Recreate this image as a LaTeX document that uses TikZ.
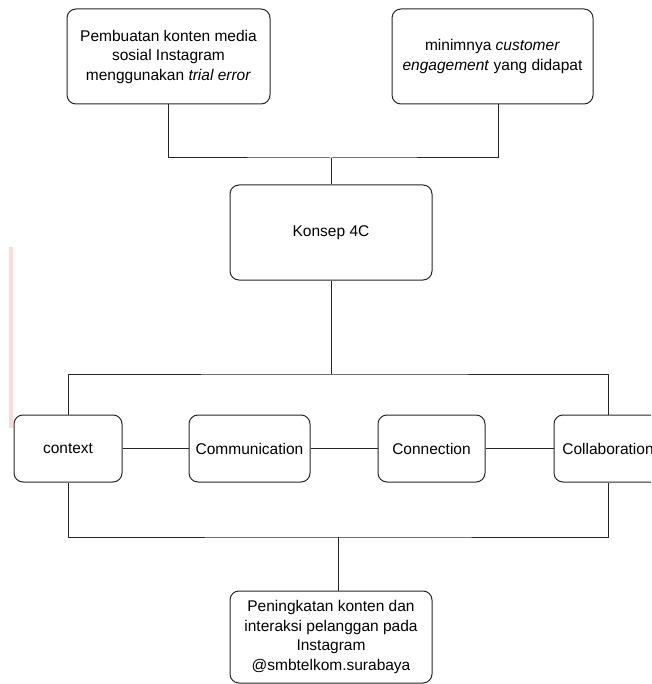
\documentclass[tikz,border=0pt]{standalone}
\usepackage{fontspec}
\setmainfont{Liberation Sans}
\begin{document}
\begin{tikzpicture}[
        x=1pt,
        y=-1pt,
        box/.style={draw=black!85, line width=1pt, rounded corners=9pt, align=center, inner sep=2pt, font=\fontsize{15.5}{19.5}\selectfont},
        wire/.style={draw=black!85, line width=1pt}
    ]
    \clip (0,0) rectangle (651,684);
    \fill[red!15] (8.5,247) rectangle (12.5,428);

    \node[box, minimum width=203pt, minimum height=95pt] (masalah1) at (168.5,56.5) {Pembuatan konten media\\sosial Instagram\\menggunakan \textit{trial error}};
    \node[box, minimum width=201pt, minimum height=95pt] (masalah2) at (492.5,56.5) {minimnya \textit{customer}\\\textit{engagement} yang didapat};
    \node[box, minimum width=202pt, minimum height=95pt] (konsep) at (331,232.5) {Konsep 4C};

    \node[box, minimum width=108pt, minimum height=67pt] (ctx) at (68,448.5) {context};
    \node[box, minimum width=121pt, minimum height=67pt] (kom) at (249.5,448.5) {Communication};
    \node[box, minimum width=107pt, minimum height=67pt] (kon) at (431.5,448.5) {Connection};
    \node[box, minimum width=108pt, minimum height=67pt] (kol) at (608,448.5) {Collaboration};

    \node[box, minimum width=202pt, minimum height=92pt] (hasil) at (331,637) {Peningkatan konten dan\\interaksi pelanggan pada\\Instagram\\@smbtelkom.surabaya};

    \coordinate (atas) at (331,158);
    \coordinate (bus) at (331,374);
    \coordinate (bawah) at (338,537);

    \draw[wire] (masalah1.south) |- (atas) -| ([xshift=6pt]masalah2.south);
    \draw[wire] (atas) -- (konsep.north);
    \draw[wire] (konsep.south) -- (bus);
    \draw[wire] (ctx.north) |- (bus) -| (kol.north);
    \draw[wire] (ctx) -- (kom) -- (kon) -- (kol);
    \draw[wire] (ctx.south) |- (bawah) -| (kol.south);
    \draw[wire] (bawah) -- (bawah |- hasil.north);

\end{tikzpicture}
\end{document}
